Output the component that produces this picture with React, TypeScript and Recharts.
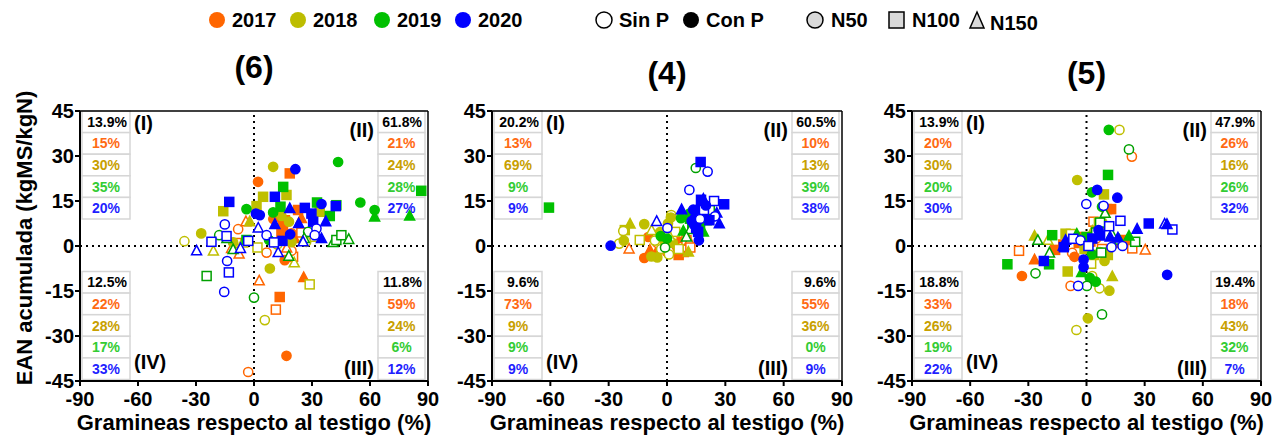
import React from "react";
import { ScatterChart, Scatter, XAxis, YAxis, ReferenceLine } from "recharts";

// legend / series categories
const years = ["2017", "2018", "2019", "2020"];
const yearColors = ["#FF6600", "#BFBF00", "#00C000", "#0000FF"];
const openColors = ["#FF6600", "#BFBF00", "#00A000", "#0000FF"];
const tableColors = ["#FF6A13", "#C8A000", "#33CC33", "#1F1FFF"];
const pLabels = ["Sin P", "Con P"];
const nLabels = ["N50", "N100", "N150"];

const xTicks = [-90, -60, -30, 0, 30, 60, 90];
const yTicks = [-45, -30, -15, 0, 15, 30, 45];

// point = [x, y, code]; o/O circle N50, s/S square N100, t/T triangle N150; lowercase = Sin P (open), uppercase = Con P (filled)
const p6_2017 = [[2.1,21.4,"O"],[18.5,24.2,"S"],[16.8,-36.6,"O"],[13.3,-17,"S"],[15.9,-4.7,"O"],[25.7,-10.5,"T"],[22.8,12,"S"],[24.5,9.2,"T"],[15,7,"S"],[16,8.6,"S"],[19.4,4.2,"O"],[14.2,4.2,"S"],[21,2.5,"T"],[2.7,-11.6,"t"],[11.3,-21.2,"s"],[-3,-42,"o"],[6.5,-2.2,"o"],[-8.2,5.6,"o"],[-4.2,8.1,"t"],[-7.7,-2.7,"t"],[20.2,-3.6,"s"],[19.4,-1.6,"o"],[24.5,4.5,"s"],[-11.6,-0.8,"t"],[-9,1,"s"],[10,9,"O"],[16.9,-0.7,"t"]];
const p6_2018 = [[9.9,26.4,"O"],[4.7,16.4,"S"],[1.3,13.3,"S"],[16.8,17,"S"],[-15.9,11.6,"S"],[14.2,10,"O"],[18.1,8.1,"O"],[8.2,-7.5,"O"],[-27.3,4.2,"O"],[-10.8,1.2,"O"],[-2.2,8.1,"T"],[34,11.4,"S"],[19.4,1.3,"O"],[-36,1.6,"o"],[-21,-1.7,"t"],[5.6,-24.7,"o"],[28.8,-12.8,"s"],[20.8,-5.6,"t"],[1.8,-0.5,"s"],[27,1.4,"o"],[31.4,3.1,"s"],[12,0.5,"o"],[-6,1,"t"]];
const p6_2019 = [[43.5,28,"O"],[86.5,18.4,"S"],[55,14.5,"O"],[62.4,12,"O"],[62.4,9.7,"T"],[80.5,10,"T"],[15.1,19.7,"S"],[13.7,13.1,"S"],[32.6,14.5,"S"],[39.2,10,"S"],[42.6,13.6,"S"],[-3.9,12.3,"O"],[9.9,11.2,"O"],[-24.5,-10,"s"],[0,-17.2,"o"],[-18,3.6,"o"],[40.9,1.2,"t"],[42.6,2,"s"],[45.2,3.6,"s"],[49,2.2,"t"],[28,4.7,"o"],[-10.8,-1.2,"t"],[-3.9,2,"S"],[-14,2.5,"t"],[7.8,2,"O"],[18,-3.4,"t"],[26,2.5,"t"]];
const p6_2020 = [[21.4,25.6,"O"],[10.8,16.4,"S"],[-12.8,14.7,"S"],[1,10.8,"O"],[3,10.3,"O"],[26.3,12.7,"S"],[34.9,14,"O"],[29.7,10.8,"S"],[30.6,8.1,"S"],[42.3,13.3,"S"],[18.5,12.5,"T"],[10.8,7.2,"T"],[23.1,7.5,"T"],[37.1,8.1,"T"],[34.9,2.5,"T"],[18.7,3.9,"O"],[14.7,1.7,"S"],[-15.1,7.2,"o"],[-14.2,3.3,"s"],[-22,1.4,"s"],[-3,1.7,"s"],[-29.7,-1.6,"t"],[-7,-0.8,"t"],[-13.9,-5,"o"],[-13,-8.8,"s"],[-15.4,-15.3,"o"],[2.2,6,"t"],[6.5,3.6,"o"],[12.5,-2.2,"t"],[10.3,1.2,"s"],[25.4,1.4,"t"],[32.3,5.8,"o"],[31.4,3.6,"o"]];

const p4_2017 = [[-19.5,-1,"t"],[-11.7,-4,"O"],[-9.6,3,"O"],[-8.8,-1.4,"T"],[7.5,1.3,"S"],[5,-0.9,"T"],[8.7,-2,"S"],[8.4,-0.3,"s"],[10,1.9,"s"],[11.5,1.7,"t"],[-4.5,-0.8,"T"],[0,-2,"O"],[3,0.5,"S"],[-5,1,"o"],[6,-3,"S"],[2,-1.5,"t"],[12,-0.5,"s"]];
const p4_2018 = [[-19,7.3,"T"],[-24.6,0.8,"o"],[-22.2,1.8,"O"],[-21.7,5.3,"S"],[-22.5,5,"o"],[-11.7,7.3,"O"],[-5,-3.8,"O"],[-6.2,1.8,"o"],[-3.6,4.6,"O"],[-7.9,5.2,"t"],[2.2,10.3,"o"],[0.5,7.5,"O"],[1,-2.8,"o"],[11,-2,"T"],[4.2,4.7,"s"],[-1,2,"S"],[3,1,"O"],[-8,-3.5,"O"],[1.5,3,"t"],[6,-1,"s"],[-14,2,"s"],[-3,-1,"o"],[2,9.5,"O"]];
const p4_2019 = [[-60.7,12.8,"S"],[-3.2,3.3,"O"],[7.2,9.3,"O"],[8.4,5,"T"],[11.8,9.1,"S"],[14.8,26,"o"],[18.7,4.7,"T"],[20.4,8.6,"s"],[17,6.3,"S"],[11.8,10.9,"O"],[24.2,10,"o"],[0,2.5,"O"],[13,7,"S"],[15,11,"S"],[12,5.5,"t"],[22,12,"s"],[-1,-0.5,"o"],[10,3,"t"]];
const p4_2020 = [[-29,0.1,"O"],[-5.3,8.2,"t"],[0.2,6,"o"],[17.3,28,"S"],[20.9,24.8,"o"],[11.5,18.7,"o"],[17.5,15.4,"S"],[18.7,15.6,"T"],[24.2,15,"s"],[29.4,13.9,"S"],[7.5,12.1,"T"],[13.5,12.1,"O"],[15.2,10.5,"O"],[14.4,9.4,"O"],[25.6,11,"T"],[24.7,9.9,"o"],[21.8,8.6,"S"],[26.9,7.4,"T"],[12.7,8.3,"O"],[16.4,1.9,"O"],[16,4.7,"S"],[16,13,"T"],[19,12,"s"],[14,7,"O"],[17,9,"o"],[20,13.5,"O"],[15,6,"S"]];

const p5_2017 = [[23.4,29.8,"o"],[12.7,12.3,"S"],[3.6,8.1,"s"],[-34.8,-1.6,"s"],[-26.8,-4.6,"T"],[-33.3,-10,"O"],[-16.2,-1.3,"S"],[-7.4,-2.3,"o"],[-6.2,-3.6,"O"],[-8.2,-13.3,"o"],[30.3,-1.3,"t"],[23.6,-0.8,"s"],[0.7,0.8,"S"],[10.5,12.3,"S"],[-2,3,"S"],[2,1.5,"S"],[5,2.5,"o"],[-4,1,"S"],[8,-1,"s"],[15,1,"S"],[20,2,"S"],[-12,0.5,"S"]];
const p5_2018 = [[17,38.7,"o"],[-4.8,22,"O"],[9,17.2,"S"],[6.4,7.9,"s"],[-26.8,3.3,"T"],[-19.9,1.9,"t"],[-9.7,-8.5,"S"],[-10.8,4.1,"S"],[2.9,-10,"o"],[13.3,-10.2,"T"],[6.7,-14.1,"o"],[11.8,-14.9,"O"],[0.7,-24.1,"O"],[-5.2,-28,"o"],[9.3,-5,"O"],[2.4,-5.9,"s"],[-8,4,"s"],[4,-3,"S"],[7,-2,"O"],[11,-3,"S"],[-1,-1,"S"],[3,5,"T"],[10,7,"T"]];
const p5_2019 = [[11.5,38.7,"O"],[21.9,32.2,"o"],[11.1,23.7,"S"],[2.8,17.9,"O"],[8,13.1,"O"],[9.6,10.9,"t"],[-17.7,3.6,"S"],[-25.1,1.9,"t"],[-19.1,-2.3,"t"],[-40.8,-6.1,"S"],[-19.3,-6.1,"S"],[-26.3,-9.1,"o"],[-2.5,-8.8,"T"],[1.7,-10.6,"O"],[4.8,-11.9,"O"],[0.2,-13.3,"o"],[8,-22.8,"o"],[25.1,1.4,"s"],[21.9,3.3,"T"],[2.8,-2.8,"O"],[7.6,-2.2,"s"],[-5,4,"T"],[0,3,"S"],[5,4.5,"s"],[13,4,"t"],[17,2,"t"],[7,7.8,"s"]];
const p5_2020 = [[5.5,18.7,"O"],[15.9,16.1,"O"],[-0.1,14,"o"],[8.8,13.4,"o"],[17.5,8.4,"s"],[32.1,7.5,"S"],[40.3,7.3,"t"],[44.3,5.5,"s"],[26.1,5.6,"T"],[6.2,5.3,"O"],[11.7,6.6,"s"],[-22,-5,"S"],[-11.7,-0.4,"S"],[-10.8,1.9,"T"],[-6.8,2.4,"s"],[-3.1,1.9,"o"],[-1.5,-4.5,"O"],[-1.5,-7,"O"],[-4.3,-13.3,"o"],[41.6,-9.6,"O"],[16.2,2.7,"T"],[12.2,3,"T"],[12.9,-0.4,"o"],[18.6,0,"o"],[-12,0,"T"],[3,2.5,"S"],[7,3.5,"S"],[1,0,"s"],[41.5,7.2,"T"]];

// quadrant tables: [total, 2017, 2018, 2019, 2020]  order: I (top-left), II (top-right), IV (bottom-left), III (bottom-right)
const p6_tables = [["13.9%","15%","30%","35%","20%"],["61.8%","21%","24%","28%","27%"],["12.5%","22%","28%","17%","33%"],["11.8%","59%","24%","6%","12%"]];
const p4_tables = [["20.2%","13%","69%","9%","9%"],["60.5%","10%","13%","39%","38%"],["9.6%","73%","9%","9%","9%"],["9.6%","55%","36%","0%","9%"]];
const p5_tables = [["13.9%","20%","30%","20%","30%"],["47.9%","26%","16%","26%","32%"],["18.8%","33%","26%","19%","22%"],["19.4%","18%","43%","32%","7%"]];

const FONT = "'Liberation Sans', Arial, sans-serif";
const PLOT_TOP = 111;
const PLOT_BOTTOM = 381;

const panels = [
  { title: "(6)", left: 0, yWidth: 80, width: 440, titleY: 78, series: [p6_2017, p6_2018, p6_2019, p6_2020], tables: p6_tables },
  { title: "(4)", left: 440, yWidth: 52, width: 414, titleY: 84, series: [p4_2017, p4_2018, p4_2019, p4_2020], tables: p4_tables },
  { title: "(5)", left: 860, yWidth: 52, width: 413, titleY: 84, series: [p5_2017, p5_2018, p5_2019, p5_2020], tables: p5_tables },
];

const toPoints = (arr: any[]) => arr.map(([x, y, code]) => ({ x, y, code }));

const makeShape = (fillColor: string, lineColor: string) => (props: any) => {
  const { cx, cy, payload } = props;
  if (cx == null || cy == null) return <g />;
  const code: string = payload.code;
  const filled = code === code.toUpperCase();
  const fill = filled ? fillColor : "#fff";
  const stroke = filled ? fillColor : lineColor;
  const kind = code.toLowerCase();
  if (kind === "s") {
    return <rect x={cx - 4.5} y={cy - 4.5} width={9} height={9} fill={fill} stroke={stroke} strokeWidth={1.5} />;
  }
  if (kind === "t") {
    return <polygon points={`${cx},${cy - 5.5} ${cx + 5},${cy + 4} ${cx - 5},${cy + 4}`} fill={fill} stroke={stroke} strokeWidth={1.5} />;
  }
  return <circle cx={cx} cy={cy} r={4.6} fill={fill} stroke={stroke} strokeWidth={1.5} />;
};

const tickStyle = { fontSize: 20, fontWeight: "bold", fill: "#000", fontFamily: FONT };

function Panel({ p }: { p: any }) {
  return (
    <div style={{ position: "absolute", left: p.left, top: 0 }}>
      <ScatterChart width={p.width} height={445} margin={{ top: PLOT_TOP, right: 12, bottom: 0, left: 0 }}>
        <XAxis type="number" dataKey="x" domain={[-90, 90]} ticks={xTicks} height={64}
          axisLine={{ stroke: "#000", strokeWidth: 2 }} tickLine={{ stroke: "#000", strokeWidth: 2 }}
          tickSize={5} tickMargin={6} tick={tickStyle} interval={0} />
        <YAxis type="number" dataKey="y" domain={[-45, 45]} ticks={yTicks} width={p.yWidth}
          axisLine={{ stroke: "#000", strokeWidth: 2 }} tickLine={{ stroke: "#000", strokeWidth: 2 }}
          tickSize={5} tickMargin={1} tick={tickStyle} interval={0} />
        <ReferenceLine x={90} stroke="#000" strokeWidth={1.5} />
        <ReferenceLine y={45} stroke="#000" strokeWidth={1.5} />
        <ReferenceLine x={0} stroke="#000" strokeWidth={2} strokeDasharray="2 4" />
        <ReferenceLine y={0} stroke="#000" strokeWidth={2} strokeDasharray="2 4" />
        {p.series.map((s: any[], i: number) => (
          <Scatter key={years[i]} name={years[i]} data={toPoints(s)}
            shape={makeShape(yearColors[i], openColors[i])} isAnimationActive={false} />
        ))}
      </ScatterChart>
    </div>
  );
}

const ROW_H = 21.6;

function Table({ x, y, w, rows }: { x: number; y: number; w: number; rows: string[] }) {
  return (
    <g>
      {rows.map((r, i) => (
        <g key={i}>
          <rect x={x} y={y + i * ROW_H} width={w} height={ROW_H} fill="#fff" stroke="#d6d6d6" strokeWidth={1.5} />
          <text x={i === 0 ? x + w - 3 : x + w / 2} y={y + i * ROW_H + ROW_H / 2 + 5}
            textAnchor={i === 0 ? "end" : "middle"} fontSize={14} fontWeight="bold"
            fill={i === 0 ? "#000" : tableColors[i - 1]}>{r}</text>
        </g>
      ))}
    </g>
  );
}

export default function App() {
  return (
    <div style={{ position: "absolute", left: 0, top: 0, width: 1288, height: 445, background: "#fff", fontFamily: FONT }}>
      {/* quadrant tables sit under the markers */}
      <svg width={1288} height={445} style={{ position: "absolute", left: 0, top: 0 }} fontFamily={FONT}>
        {panels.map((p) => {
          const pl = p.left + p.yWidth;
          const pr = p.left + p.width - 12;
          return (
            <g key={p.title}>
              <Table x={pl + 2} y={PLOT_TOP} w={48} rows={p.tables[0]} />
              <Table x={pr - 50} y={PLOT_TOP} w={47} rows={p.tables[1]} />
              <Table x={pl + 2} y={271.5} w={48} rows={p.tables[2]} />
              <Table x={pr - 50} y={271.5} w={47} rows={p.tables[3]} />
            </g>
          );
        })}
      </svg>
      {panels.map((p) => <Panel key={p.title} p={p} />)}
      <svg width={1288} height={445} style={{ position: "absolute", left: 0, top: 0, pointerEvents: "none" }}
        fontFamily={FONT} fontWeight="bold">
        {/* legend */}
        {years.map((yr, i) => {
          const cx = [217, 298, 382, 463][i];
          return (
            <g key={yr}>
              <circle cx={cx} cy={20} r={8} fill={yearColors[i] === "#BFBF00" ? "#BDBD00" : yearColors[i]} />
              <text x={cx + 15} y={27} fontSize={20}>{yr}</text>
            </g>
          );
        })}
        <circle cx={604} cy={20} r={8} fill="#fff" stroke="#000" strokeWidth={1.5} />
        <text x={619} y={27} fontSize={20}>{pLabels[0]}</text>
        <circle cx={691} cy={20} r={8} fill="#000" />
        <text x={706} y={27} fontSize={20}>{pLabels[1]}</text>
        <circle cx={815} cy={20} r={8} fill="#d9d9d9" stroke="#000" strokeWidth={1.5} />
        <text x={831} y={27} fontSize={20}>{nLabels[0]}</text>
        <rect x={889} y={12} width={15} height={16} fill="#d9d9d9" stroke="#000" strokeWidth={1.5} />
        <text x={912} y={27} fontSize={20}>{nLabels[1]}</text>
        <polygon points="977,12 984,28 970,28" fill="#d9d9d9" stroke="#000" strokeWidth={1.5} />
        <text x={990} y={30} fontSize={20}>{nLabels[2]}</text>

        {panels.map((p) => {
          const pl = p.left + p.yWidth;
          const pr = p.left + p.width - 12;
          const mid = (pl + pr) / 2;
          return (
            <g key={p.title}>
              <text x={mid} y={p.titleY} fontSize={32} textAnchor="middle">{p.title}</text>
              <text x={mid} y={430} fontSize={22} textAnchor="middle">Gramineas respecto al testigo (%)</text>
              <text x={pl + 54} y={130} fontSize={20}>(I)</text>
              <text x={pr - 54} y={137} fontSize={20} textAnchor="end">(II)</text>
              <text x={pl + 54} y={369} fontSize={20}>(IV)</text>
              <text x={pr - 54} y={375} fontSize={20} textAnchor="end">(III)</text>
            </g>
          );
        })}
        <text transform="translate(32,238) rotate(-90)" fontSize={22} textAnchor="middle">EAN acumulada (kgMS/kgN)</text>
      </svg>
    </div>
  );
}
